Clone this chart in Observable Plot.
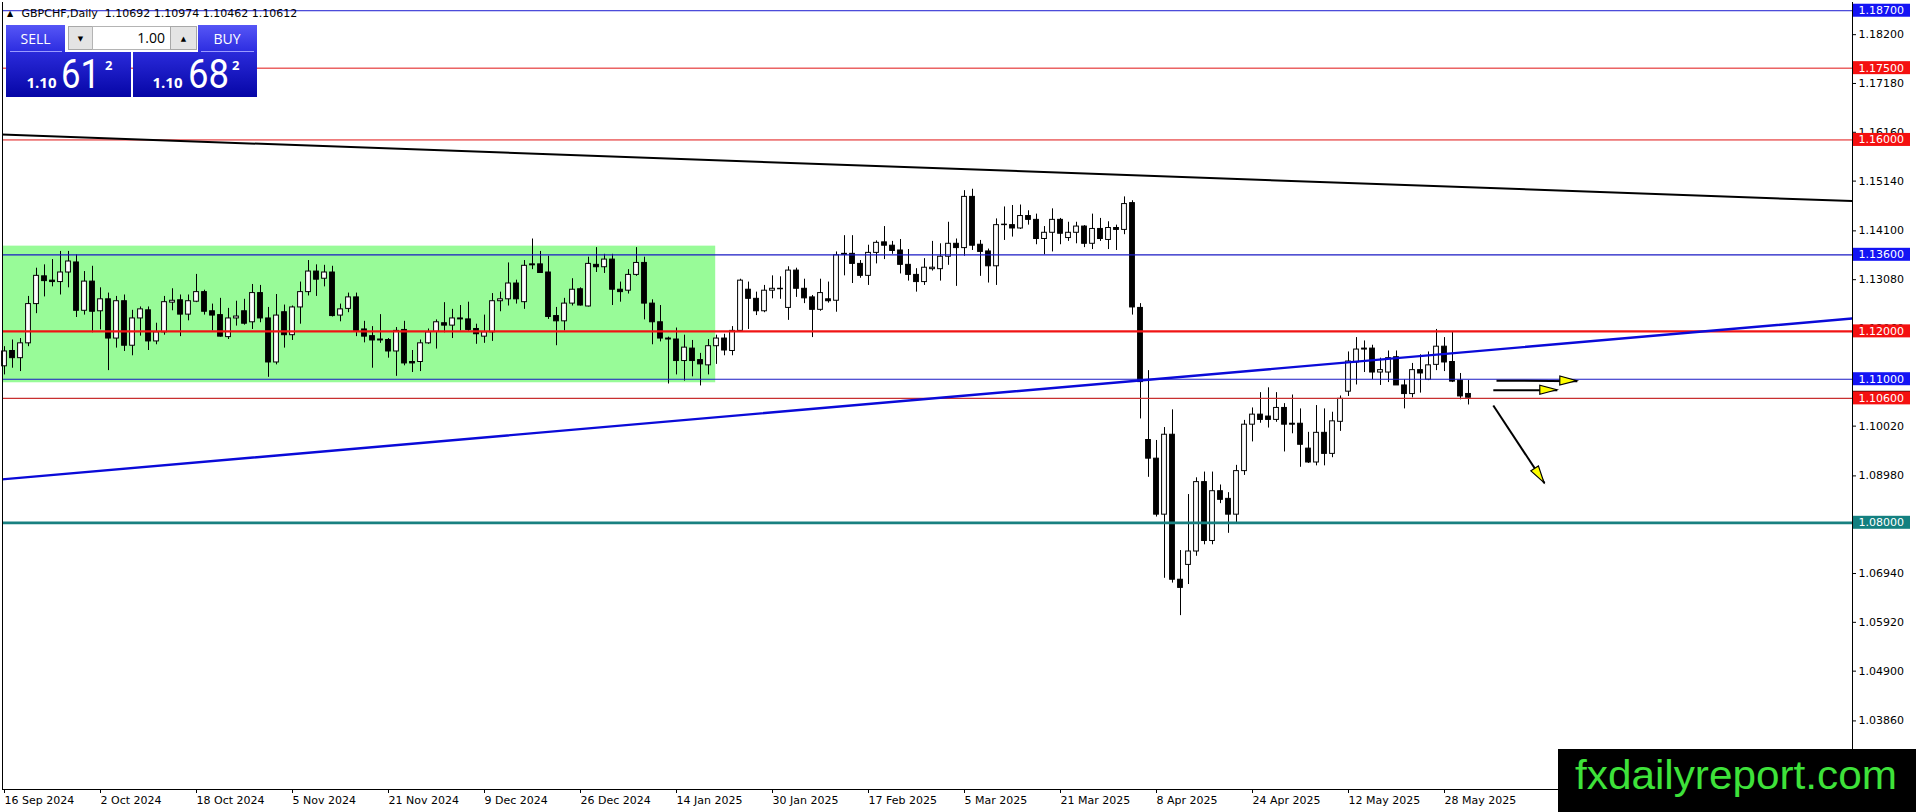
<!DOCTYPE html>
<html><head><meta charset="utf-8">
<script src="https://cdn.jsdelivr.net/npm/d3@7"></script>
<script src="https://cdn.jsdelivr.net/npm/@observablehq/plot@0.6"></script>
<style>
html,body{margin:0;padding:0;background:#fff;}
body{width:1916px;height:812px;overflow:hidden;position:relative;}
#chart{position:absolute;left:0;top:0;}
#panel{position:absolute;left:0;top:0;}
</style></head><body>
<div id="chart"></div>
<svg id="panel" width="270" height="100" xmlns="http://www.w3.org/2000/svg">
  <defs>
    <linearGradient id="gBtn" x1="0" y1="0" x2="0" y2="1"><stop offset="0" stop-color="#5656f6"/><stop offset="1" stop-color="#2c2ce0"/></linearGradient>
    <linearGradient id="gPrice" x1="0" y1="0" x2="0" y2="1"><stop offset="0" stop-color="#2a2ada"/><stop offset="1" stop-color="#0606a6"/></linearGradient>
  </defs>
  <rect x="6" y="25" width="59" height="27" fill="url(#gBtn)"/>
  <line x1="10" x2="62" y1="51.5" y2="51.5" stroke="#9a9aff" stroke-width="1"/>
  <text x="35.5" y="43.5" text-anchor="middle" font-family="Open Sans" font-size="14" fill="#fff">SELL</text>
  <rect x="68.5" y="26.5" width="24" height="23" fill="#e4e4e4" stroke="#a8a8a8"/>
  <text x="80.5" y="41" text-anchor="middle" font-family="DejaVu Sans" font-size="7" fill="#000">▼</text>
  <rect x="92.5" y="26.5" width="78" height="23" fill="#fff" stroke="#b4b4b4"/>
  <text x="165" y="43" text-anchor="end" font-family="Open Sans" font-size="14" fill="#000">1.00</text>
  <rect x="170.5" y="26.5" width="26" height="23" fill="#e4e4e4" stroke="#a8a8a8"/>
  <text x="183.5" y="41" text-anchor="middle" font-family="DejaVu Sans" font-size="7" fill="#000">▲</text>
  <rect x="198" y="25" width="59" height="27" fill="url(#gBtn)"/>
  <line x1="201" x2="254" y1="51.5" y2="51.5" stroke="#9a9aff" stroke-width="1"/>
  <text x="227" y="43.5" text-anchor="middle" font-family="Open Sans" font-size="14" fill="#fff">BUY</text>
  <rect x="6" y="52" width="125" height="45" fill="url(#gPrice)"/>
  <text x="26.5" y="87.5" font-family="Open Sans" font-weight="bold" font-size="15" fill="#fff">1.10</text>
  <text x="61" y="87.5" font-family="Roboto" font-size="40" fill="#fff" textLength="39" lengthAdjust="spacingAndGlyphs">61</text>
  <text x="105" y="70" font-family="Open Sans" font-weight="bold" font-size="13" fill="#fff">2</text>
  <rect x="133" y="52" width="124" height="45" fill="url(#gPrice)"/>
  <text x="152.5" y="87.5" font-family="Open Sans" font-weight="bold" font-size="15" fill="#fff">1.10</text>
  <text x="188" y="87.5" font-family="Roboto" font-size="40" fill="#fff" textLength="41" lengthAdjust="spacingAndGlyphs">68</text>
  <text x="232" y="70" font-family="Open Sans" font-weight="bold" font-size="13" fill="#fff">2</text>
</svg>
<script>
// ---- Daily GBPCHF candles (bar index 0 = 16 Sep 2024) ----
const opens = [
1.1127,1.1159,1.1144,1.1175,1.1257,1.1315,1.1306,1.1303,1.1323,1.1344,
1.1243,1.1304,1.1242,1.1267,1.1185,1.1263,1.1170,1.1227,1.1244,1.1179,
1.1198,1.1260,1.1265,1.1235,1.1262,1.1282,1.1242,1.1234,1.1188,1.1227,
1.1242,1.1219,1.1280,1.1227,1.1135,1.1240,1.1192,1.1250,1.1282,1.1325,
1.1310,1.1323,1.1233,1.1247,1.1271,1.1204,1.1190,1.1183,1.1182,1.1158,
1.1203,1.1136,1.1136,1.1175,1.1199,1.1217,1.1212,1.1227,1.1225,1.1205,
1.1189,1.1198,1.1263,1.1267,1.1300,1.1261,1.1340,1.1340,1.1323,1.1232,
1.1221,1.1258,1.1288,1.1252,1.1339,1.1334,1.1350,1.1287,1.1285,1.1318,
1.1343,1.1258,1.1219,1.1185,1.1183,1.1138,1.1164,1.1140,1.1129,1.1169,
1.1185,1.1159,1.1201,1.1287,1.1268,1.1242,1.1285,1.1289,1.1249,1.1327,
1.1289,1.1271,1.1245,1.1267,1.1264,1.1362,1.1362,1.1341,1.1316,1.1364,
1.1386,1.1379,1.1369,1.1339,1.1318,1.1303,1.1330,1.1330,1.1356,1.1383,
1.1374,1.1481,1.1381,1.1367,1.1336,1.1422,1.1422,1.1415,1.1441,1.1433,
1.1393,1.1406,1.1433,1.1395,1.1406,1.1419,1.1383,1.1414,1.1391,1.1416,
1.1412,1.1468,1.1249,1.0973,1.0934,1.0817,1.0984,1.0681,1.0712,1.0740,
1.0885,1.0762,1.0866,1.0850,1.0817,1.0908,1.1005,1.1026,1.1022,1.1015,
1.1040,1.1007,1.1007,1.0955,1.0926,1.0988,1.0944,1.1011,1.1074,1.1135,
1.1164,1.1164,1.1114,1.1114,1.1146,1.1087,1.1069,1.1119,1.1099,1.1130,
1.1168,1.1136,1.1097,1.10692];
const highs = [
1.1168,1.1182,1.1185,1.1273,1.1332,1.1339,1.1350,1.1367,1.1367,1.1360,
1.1325,1.1336,1.1291,1.1280,1.1273,1.1276,1.1244,1.1251,1.1251,1.1217,
1.1273,1.1289,1.1276,1.1276,1.1319,1.1286,1.1257,1.1269,1.1248,1.1263,
1.1267,1.1298,1.1296,1.1250,1.1277,1.1255,1.1253,1.1303,1.1348,1.1339,
1.1338,1.1336,1.1257,1.1280,1.1280,1.1221,1.1210,1.1235,1.1185,1.1208,
1.1221,1.1160,1.1182,1.1205,1.1224,1.1260,1.1246,1.1254,1.1261,1.1215,
1.1234,1.1279,1.1282,1.1343,1.1307,1.1348,1.1393,1.1367,1.1357,1.1250,
1.1269,1.1310,1.1291,1.1355,1.1375,1.1361,1.1361,1.1303,1.1329,1.1375,
1.1355,1.1266,1.1254,1.1188,1.1207,1.1192,1.1181,1.1154,1.1183,1.1192,
1.1194,1.1210,1.1309,1.1303,1.1282,1.1296,1.1316,1.1314,1.1335,1.1332,
1.1309,1.1275,1.1309,1.1303,1.1366,1.1400,1.1400,1.1348,1.1380,1.1389,
1.1419,1.1388,1.1392,1.1371,1.1331,1.1352,1.1388,1.1383,1.1428,1.1393,
1.1494,1.1497,1.1390,1.1372,1.1435,1.1460,1.1463,1.1464,1.1452,1.1445,
1.1419,1.1456,1.1436,1.1428,1.1428,1.1421,1.1445,1.1436,1.1429,1.1422,
1.1481,1.1473,1.1258,1.1118,1.0972,1.0999,1.1036,1.0742,1.0859,1.0894,
1.0906,1.0906,1.0879,1.0863,1.0920,1.1014,1.1040,1.1072,1.1082,1.1072,
1.1049,1.1067,1.1038,1.0989,1.1045,1.1038,1.1031,1.1065,1.1157,1.1187,
1.1180,1.1171,1.1144,1.1159,1.1159,1.1099,1.1133,1.1151,1.1157,1.1204,
1.1187,1.1199,1.1112,1.10974];
const lows = [
1.1109,1.1123,1.1116,1.1168,1.1237,1.1272,1.1293,1.1276,1.1291,1.1229,
1.1234,1.1197,1.1203,1.1118,1.1165,1.1158,1.1149,1.1190,1.1160,1.1172,
1.1192,1.1243,1.1189,1.1222,1.1260,1.1234,1.1201,1.1188,1.1183,1.1211,
1.1213,1.1204,1.1218,1.1104,1.1130,1.1165,1.1181,1.1215,1.1274,1.1273,
1.1293,1.1230,1.1220,1.1239,1.1189,1.1176,1.1123,1.1175,1.1144,1.1106,
1.1128,1.1114,1.1116,1.1173,1.1163,1.1197,1.1185,1.1201,1.1200,1.1173,
1.1175,1.1179,1.1241,1.1253,1.1257,1.1246,1.1329,1.1321,1.1225,1.1170,
1.1201,1.1253,1.1253,1.1251,1.1323,1.1321,1.1254,1.1261,1.1278,1.1315,
1.1224,1.1172,1.1178,1.1090,1.1109,1.1096,1.1105,1.1086,1.1109,1.1131,
1.1149,1.1149,1.1199,1.1204,1.1233,1.1239,1.1268,1.1267,1.1223,1.1271,
1.1258,1.1187,1.1242,1.1259,1.1240,1.1316,1.1300,1.1311,1.1296,1.1341,
1.1350,1.1361,1.1320,1.1305,1.1282,1.1296,1.1326,1.1305,1.1338,1.1294,
1.1357,1.1369,1.1315,1.1301,1.1296,1.1390,1.1397,1.1413,1.1422,1.1381,
1.1360,1.1366,1.1381,1.1388,1.1383,1.1375,1.1371,1.1388,1.1371,1.1369,
1.1402,1.1234,1.1017,1.0895,1.0812,1.0684,1.0674,1.0606,1.0671,1.0730,
1.0754,1.0754,1.0840,1.0778,1.0798,1.0899,1.0969,1.1008,1.0998,1.1010,
1.0948,1.0986,1.0916,1.0924,1.0919,1.0919,1.0936,1.0991,1.1064,1.1088,
1.1114,1.1099,1.1087,1.1093,1.1087,1.1038,1.1061,1.1071,1.1097,1.1118,
1.1116,1.1093,1.1057,1.10462];
const closes = [
1.1158,1.1144,1.1175,1.1257,1.1316,1.1305,1.1303,1.1323,1.1346,1.1243,
1.1304,1.1241,1.1267,1.1185,1.1263,1.1170,1.1227,1.1246,1.1179,1.1198,
1.1261,1.1264,1.1235,1.1263,1.1282,1.1241,1.1233,1.1189,1.1227,1.1231,
1.1216,1.1280,1.1227,1.1135,1.1233,1.1192,1.1250,1.1282,1.1325,1.1308,
1.1323,1.1232,1.1246,1.1271,1.1201,1.1189,1.1181,1.1181,1.1158,1.1201,
1.1133,1.1133,1.1175,1.1198,1.1219,1.1212,1.1227,1.1225,1.1203,1.1194,
1.1198,1.1263,1.1267,1.1300,1.1267,1.1337,1.1338,1.1322,1.1230,1.1221,
1.1258,1.1287,1.1254,1.1341,1.1334,1.1350,1.1287,1.1282,1.1318,1.1343,
1.1258,1.1219,1.1185,1.1183,1.1138,1.1166,1.1138,1.1131,1.1169,1.1185,
1.1160,1.1201,1.1306,1.1268,1.1242,1.1285,1.1289,1.1288,1.1327,1.1289,
1.1269,1.1245,1.1280,1.1263,1.1359,1.1360,1.1341,1.1316,1.1364,1.1385,
1.1379,1.1368,1.1339,1.1318,1.1303,1.1333,1.1333,1.1356,1.1383,1.1374,
1.1481,1.1379,1.1366,1.1336,1.1422,1.1423,1.1415,1.1441,1.1433,1.1393,
1.1406,1.1433,1.1404,1.1406,1.1419,1.1383,1.1414,1.1393,1.1416,1.1412,
1.1466,1.1250,1.1094,1.0934,1.0817,1.0984,1.0681,1.0664,1.0740,1.0885,
1.0762,1.0866,1.0848,1.0817,1.0908,1.1005,1.1026,1.1015,1.1015,1.1040,
1.1005,1.1005,1.0963,1.0926,1.0988,1.0944,1.1012,1.1059,1.1137,1.1162,
1.1162,1.1114,1.1119,1.1144,1.1087,1.1069,1.1119,1.1112,1.1129,1.1168,
1.1135,1.1095,1.1064,1.10612];

// ---- axis ticks ----
const dateTickIdx = [0,12,24,36,48,60,72,84,96,108,120,132,144,156,168,180];
const dateTickLabels = ["16 Sep 2024","2 Oct 2024","18 Oct 2024","5 Nov 2024","21 Nov 2024","9 Dec 2024","26 Dec 2024","14 Jan 2025","30 Jan 2025","17 Feb 2025","5 Mar 2025","21 Mar 2025","8 Apr 2025","24 Apr 2025","12 May 2025","28 May 2025"];
const priceTicks = [1.18200,1.17180,1.16160,1.15140,1.14100,1.13080,1.12060,1.11040,1.10020,1.08980,1.07960,1.06940,1.05920,1.04900,1.03860];

// ---- horizontal levels ----
const levelPrices = [1.18700,1.17500,1.16000,1.13600,1.12000,1.11000,1.10600,1.08000];
const levelColors = ["#1a1ad0","#e01414","#e01414","#1a1ac4","#f01414","#1a1ac4","#c83030","#188080"];
const levelWidths = [1,1,1,1.2,2.4,1.2,1.4,2.8];
const badgeColors = ["#1414f4","#f41010","#f41010","#1414f4","#f41010","#1414f4","#f41010","#138080"];
const bidPrice = 1.10612;

// ---- drawn objects ----
const trendIdx = [-0.5, 231];
const blackTrend = [1.16114, 1.14722];
const blueTrend = [1.08905, 1.12269];
const zoneIdx = [-0.5, 88.9];
const zonePrices = [1.10926, 1.13781];
const arrowsX1 = [186.5, 186.1, 186.1];
const arrowsY1 = [1.1097, 1.1077, 1.1045];
const arrowsX2 = [196.6, 194.1, 192.5];
const arrowsY2 = [1.1096, 1.1077, 1.0883];

const bars = opens.map((o, i) => ({i, o, h: highs[i], l: lows[i], c: closes[i]}));
const upBars = bars.filter(d => d.c > d.o);
const dnBars = bars.filter(d => d.c <= d.o);
const arrows = arrowsX1.map((x, k) => ({x1: x, y1: arrowsY1[k], x2: arrowsX2[k], y2: arrowsY2[k]}));
const yBottom = 1.02427, yTop = 1.18872;

const plot = Plot.plot({
  width: 1916, height: 812,
  marginLeft: 2, marginRight: 64, marginTop: 2, marginBottom: 23,
  x: {type: "linear", domain: [-0.25, 231], axis: null},
  y: {type: "linear", domain: [yBottom, yTop], axis: null},
  style: {background: "#fff", color: "#000", fontFamily: "DejaVu Sans", fontSize: "11px"},
  marks: [
    Plot.rect([0], {x1: zoneIdx[0], x2: zoneIdx[1], y1: zonePrices[0], y2: zonePrices[1], fill: "#98fb98", clip: true}),
    Plot.ruleX(bars, {x: "i", y1: "l", y2: "h", stroke: "#000", strokeWidth: 1}),
    Plot.rect(upBars, {x1: d => d.i - 0.3, x2: d => d.i + 0.3, y1: "o", y2: "c", fill: "#fff", stroke: "#000", strokeWidth: 1}),
    Plot.rect(dnBars, {x1: d => d.i - 0.3, x2: d => d.i + 0.3, y1: "o", y2: "c", fill: "#000", stroke: "#000", strokeWidth: 1}),
    ...levelPrices.map((p, k) => Plot.ruleY([p], {stroke: levelColors[k], strokeWidth: levelWidths[k]})),
    Plot.line(trendIdx, {x: trendIdx, y: blackTrend, stroke: "#000", strokeWidth: 2, clip: true}),
    Plot.line(trendIdx, {x: trendIdx, y: blueTrend, stroke: "#0a0ad8", strokeWidth: 2.4, clip: true}),
    Plot.link(arrows, {x1: "x1", y1: "y1", x2: "x2", y2: "y2", stroke: "#000", strokeWidth: 2}),
    Plot.ruleX([231], {stroke: "#000", strokeWidth: 1}),
    Plot.ruleX([-0.25], {stroke: "#000", strokeWidth: 1}),
    Plot.ruleY([yBottom], {stroke: "#000", strokeWidth: 1}),
    Plot.axisY(priceTicks, {anchor: "right", tickFormat: d3.format(".5f"), tickSize: 3, tickPadding: 3, fontSize: 11}),
    Plot.axisX(dateTickIdx, {anchor: "bottom", tickFormat: i => dateTickLabels[dateTickIdx.indexOf(i)], tickSize: 4, tickPadding: 3, textAnchor: "start", fontSize: 11})
  ]
});
document.getElementById("chart").appendChild(plot);

const svg = d3.select(plot);
const xs = plot.scale("x"), ys = plot.scale("y");
const g = svg.append("g").attr("text-anchor", "start");

// arrow heads
arrows.forEach(a => {
  const x1 = xs.apply(a.x1), y1 = ys.apply(a.y1), x2 = xs.apply(a.x2), y2 = ys.apply(a.y2);
  const L = Math.hypot(x2 - x1, y2 - y1), ux = (x2 - x1) / L, uy = (y2 - y1) / L;
  const hl = 17, hw = 4.5, bx = x2 - ux * hl, by = y2 - uy * hl;
  const pts = [[x2, y2], [bx - uy * hw, by + ux * hw], [bx + uy * hw, by - ux * hw]];
  g.append("polygon").attr("points", pts.map(p => p.join(",")).join(" "))
    .attr("fill", "#ffff00").attr("stroke", "#000").attr("stroke-width", 1.2);
});

// price badges on the right axis
function badge(p, color, label) {
  const y = ys.apply(p);
  g.append("rect").attr("x", 1853).attr("y", y - 6.5).attr("width", 57).attr("height", 13).attr("fill", color);
  g.append("text").attr("x", 1858.5).attr("y", y + 4).attr("fill", "#fff").attr("text-anchor", "start")
    .attr("font-family", "DejaVu Sans").attr("font-size", 11).text(label);
}
badge(bidPrice, "#000", d3.format(".5f")(bidPrice));
levelPrices.forEach((p, k) => badge(p, badgeColors[k], d3.format(".5f")(p)));

// title
g.append("text").attr("x", 7).attr("y", 15.5).attr("text-anchor", "start").attr("font-family", "DejaVu Sans").attr("font-size", 8).attr("fill", "#000").text("▲");
g.append("text").attr("x", 21.5).attr("y", 16.5).attr("text-anchor", "start").attr("font-family", "DejaVu Sans").attr("font-size", 11).attr("fill", "#000")
  .style("white-space", "pre").text("GBPCHF,Daily  1.10692 1.10974 1.10462 1.10612");

// watermark
g.append("rect").attr("x", 1558).attr("y", 749).attr("width", 358).attr("height", 63).attr("fill", "#000");
g.append("text").attr("x", 1575).attr("y", 788.5).attr("text-anchor", "start").attr("font-family", "Liberation Sans").attr("font-size", 40)
  .attr("fill", "#3ee23a").attr("textLength", 322).attr("lengthAdjust", "spacingAndGlyphs").text("fxdailyreport.com");
</script>
</body></html>
